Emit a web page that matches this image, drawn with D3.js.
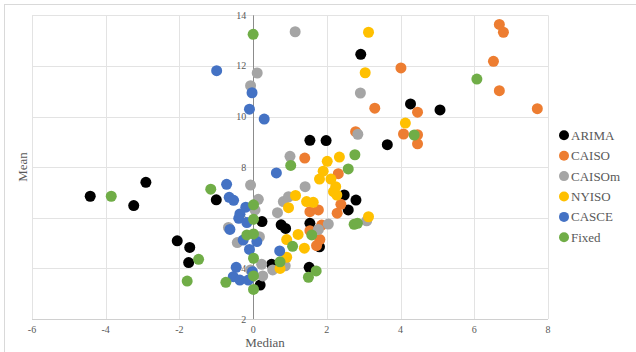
<!DOCTYPE html>
<html>
<head>
<meta charset="utf-8">
<script src="https://cdn.jsdelivr.net/npm/d3@7"></script>
<style>
  body { margin: 0; background: #fff; }
  svg { display: block; }
  svg text { font-family: "Liberation Serif", "Times New Roman", serif; }
</style>
</head>
<body>
<div id="chart"><svg width="636" height="352"></svg></div>
<script>
// data: [median, mean] per series
const seriesNames = ['ARIMA', 'CAISO', 'CAISOm', 'NYISO', 'CASCE', 'Fixed'];
const seriesColors = ['#000000', '#ED7D31', '#A5A5A5', '#FFC000', '#4472C4', '#70AD47'];

const arima = [[-4.42, 6.85], [-3.24, 6.48], [-2.91, 7.40], [-2.06, 5.09], [-1.72, 4.83], [-1.75, 4.23],
  [-1.0, 6.71], [0.24, 5.85], [0.76, 5.72], [0.88, 5.58], [0.50, 4.16], [0.19, 3.34], [1.54, 9.06],
  [1.98, 9.05], [2.92, 12.46], [3.64, 8.89], [4.27, 10.50], [5.07, 10.26], [2.47, 6.90], [2.79, 6.70],
  [2.58, 6.31], [1.54, 5.78], [1.80, 4.85], [1.52, 4.04]];
const caiso = [[6.68, 13.64], [6.79, 13.33], [4.01, 11.92], [6.52, 12.18], [6.68, 11.02], [3.30, 10.33],
  [4.46, 10.17], [7.71, 10.31], [2.78, 9.40], [4.08, 9.31], [4.46, 9.28], [4.46, 8.92], [1.40, 8.36],
  [2.31, 7.74], [2.38, 6.53], [2.28, 6.18], [1.54, 6.24], [1.77, 6.31], [1.86, 5.71], [1.54, 5.49],
  [1.81, 5.14], [1.72, 4.90]];
const caisom = [[1.14, 13.35], [0.11, 11.72], [-0.07, 11.22], [2.91, 10.93], [2.84, 9.30], [1.0, 8.43],
  [1.41, 7.23], [-0.07, 7.29], [0.14, 6.73], [0.82, 6.64], [0.96, 6.83], [0.66, 6.20], [0.05, 6.31],
  [3.08, 5.88], [2.04, 5.75], [1.77, 5.54], [-0.67, 5.62], [0.17, 5.25], [-0.43, 5.02], [0.23, 4.16],
  [0.53, 3.94], [0.87, 4.10], [-0.07, 3.94], [0.26, 3.70]];
const nyiso = [[3.13, 13.33], [3.04, 11.73], [4.13, 9.74], [2.34, 8.40], [2.01, 8.23], [1.90, 7.84],
  [1.80, 7.53], [2.11, 7.53], [2.24, 7.23], [2.18, 7.03], [2.27, 6.90], [1.45, 6.64], [1.63, 6.61],
  [1.15, 6.88], [0.96, 6.40], [3.13, 6.04], [1.22, 5.34], [0.91, 5.14], [1.39, 4.80], [0.91, 4.44],
  [0.73, 4.0]];
const casce = [[-0.99, 11.81], [-0.03, 10.94], [-0.10, 10.29], [0.30, 9.90], [0.63, 7.77], [-0.72, 7.32],
  [-0.65, 6.81], [-0.53, 6.69], [-0.20, 6.42], [-0.36, 6.15], [-0.39, 5.98], [-0.17, 5.81], [-0.63, 5.54],
  [-0.27, 5.12], [0.10, 5.06], [-0.10, 4.75], [0.72, 4.69], [-0.46, 4.04], [-0.54, 3.67], [-0.36, 3.54],
  [-0.13, 3.54], [-0.02, 3.87]];
const fixed = [[0.0, 13.25], [6.07, 11.48], [4.37, 9.27], [1.02, 8.07], [2.76, 8.49], [2.58, 7.93],
  [-3.85, 6.85], [-1.15, 7.13], [0.01, 6.51], [0.01, 5.94], [-0.17, 5.32], [0.01, 5.36], [2.74, 5.74],
  [2.83, 5.78], [1.59, 5.32], [1.07, 4.87], [0.01, 4.40], [0.73, 4.26], [-1.48, 4.36], [-1.79, 3.50],
  [-0.74, 3.45], [0.01, 3.70], [0.01, 3.17], [1.71, 3.90], [1.50, 3.65]];

const xTicks = [-6, -4, -2, 0, 2, 4, 6, 8];
const yTicks = [2, 4, 6, 8, 10, 12, 14];

const allSeries = [arima, caiso, caisom, nyiso, casce, fixed];

const svg = d3.select('#chart svg');

// chart border
svg.append('rect')
  .attr('x', 4.5).attr('y', 4.5)
  .attr('width', 640).attr('height', 360)
  .style('fill', 'none').style('stroke', '#d9d9d9');

// scales
const scaleX = d3.scaleLinear().domain([-6, 8]).range([32, 548]);
const scaleY = d3.scaleLinear().domain([2, 14]).range([319, 15.3]);
const scaleColor = d3.scaleOrdinal().domain(seriesNames).range(seriesColors);

// gridlines
const grid = svg.append('g').attr('id', 'grid').style('stroke', '#e3e3e3');
grid.selectAll('line.h')
  .data(yTicks)
  .join('line')
  .attr('class', 'h')
  .attr('x1', scaleX(-6)).attr('x2', scaleX(8))
  .attr('y1', d => Math.round(scaleY(d)) + 0.5).attr('y2', d => Math.round(scaleY(d)) + 0.5);
grid.selectAll('line.v')
  .data(xTicks.filter(d => d !== 0))
  .join('line')
  .attr('class', 'v')
  .attr('y1', scaleY(2)).attr('y2', scaleY(14))
  .attr('x1', d => Math.round(scaleX(d)) + 0.5).attr('x2', d => Math.round(scaleX(d)) + 0.5);

// axes lines
svg.append('line')
  .attr('x1', scaleX(-6)).attr('x2', scaleX(8))
  .attr('y1', Math.round(scaleY(2)) + 0.5).attr('y2', Math.round(scaleY(2)) + 0.5)
  .style('stroke', '#d0d0d0');
svg.append('line')
  .attr('x1', Math.round(scaleX(0)) + 0.5).attr('x2', Math.round(scaleX(0)) + 0.5)
  .attr('y1', scaleY(2)).attr('y2', scaleY(14))
  .style('stroke', '#8c8c8c');

// tick labels
svg.append('g')
  .selectAll('text')
  .data(xTicks)
  .join('text')
  .text(d => d)
  .attr('x', d => scaleX(d))
  .attr('y', 333)
  .style('text-anchor', 'middle')
  .style('font-size', '10px')
  .style('fill', '#595959');

svg.append('g')
  .selectAll('text')
  .data(yTicks)
  .join('text')
  .text(d => d)
  .attr('x', scaleX(0) - 7)
  .attr('y', d => scaleY(d) + 3.5)
  .style('text-anchor', 'end')
  .style('font-size', '10px')
  .style('fill', '#595959');

// points
allSeries.forEach((pts, i) => {
  svg.append('g')
    .attr('id', seriesNames[i])
    .selectAll('circle')
    .data(pts)
    .join('circle')
    .attr('cx', d => scaleX(d[0]))
    .attr('cy', d => scaleY(d[1]))
    .attr('r', 5.5)
    .style('fill', scaleColor(seriesNames[i]));
});

// axis titles
svg.append('text')
  .text('Median')
  .attr('x', 265).attr('y', 347)
  .style('text-anchor', 'middle')
  .style('font-size', '13px')
  .style('fill', '#595959');
svg.append('text')
  .text('Mean')
  .attr('transform', 'translate(27,167) rotate(-90)')
  .style('text-anchor', 'middle')
  .style('font-size', '13px')
  .style('fill', '#595959');

// legend
const legend = svg.append('g').attr('id', 'legend');
const legendItems = legend.selectAll('g')
  .data(seriesNames)
  .join('g')
  .attr('transform', (d, i) => `translate(564, ${135.3 + i * 20.4})`);
legendItems.append('circle')
  .attr('r', 5)
  .style('fill', d => scaleColor(d));
legendItems.append('text')
  .text(d => d)
  .attr('x', 7)
  .attr('y', 4.5)
  .style('font-size', '13px')
  .style('fill', '#595959');
</script>
</body>
</html>
